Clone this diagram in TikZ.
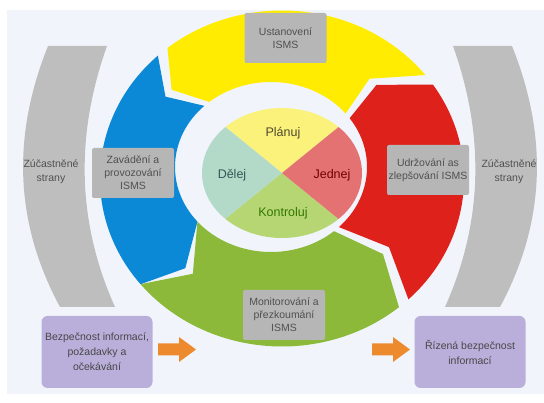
\documentclass[tikz,border=0pt]{standalone}
\usepackage{fontspec}
\setmainfont{Liberation Sans}
\usetikzlibrary{calc}

\definecolor{bgblue}{HTML}{F1F5FB}
\definecolor{bandgray}{HTML}{BEBEBE}
\definecolor{boxgray}{HTML}{B6B6B6}
\definecolor{boxtext}{HTML}{505050}
\definecolor{ringyellow}{HTML}{FFEC00}
\definecolor{ringred}{HTML}{DF211B}
\definecolor{ringgreen}{HTML}{8DB93A}
\definecolor{ringblue}{HTML}{0C89D6}
\definecolor{pieyellow}{HTML}{FBF27C}
\definecolor{pieteal}{HTML}{B3DAC9}
\definecolor{piered}{HTML}{E47272}
\definecolor{piegreen}{HTML}{B6D674}
\definecolor{infopurple}{HTML}{BAAFDB}
\definecolor{infotext}{HTML}{474747}
\definecolor{arroworange}{HTML}{EE8A2E}

\begin{document}
\begin{tikzpicture}[x=1pt, y=1pt,
    ringbox/.style={fill=boxgray, rounded corners=2pt, minimum width=82pt, minimum height=50pt,
      inner sep=0pt, align=center, text=boxtext, font=\fontsize{10.5}{13}\selectfont},
    infobox/.style={fill=infopurple, rounded corners=6pt, minimum width=111pt, minimum height=72pt,
      inner sep=0pt, align=center, text=infotext, font=\fontsize{10.5}{15}\selectfont},
    sidetext/.style={align=center, text=boxtext, font=\fontsize{10.5}{14}\selectfont},
    pietext/.style={font=\fontsize{12.5}{15}\selectfont}]

    \useasboundingbox (0,0) rectangle (544,403);
    \fill[white] (0,0) rectangle (544,403);
    \fill[bgblue] (7,9) rectangle (544,393);

    \fill[bandgray] (48,357) .. controls (13,270) and (13,183) .. (60,96) -- (115,96)
      .. controls (76,183) and (76,270) .. (107,357) -- cycle;
    \node[sidetext] (partyL) at (51,231) {Zúčastněné\\strany};

    \fill[bandgray] (512,357) .. controls (547,270) and (547,183) .. (500,96) -- (445,96)
      .. controls (484,183) and (484,270) .. (453,357) -- cycle;
    \node[sidetext] (partyR) at (509,231) {Zúčastněné\\strany};

    \coordinate (Co) at (282,224.5);
    \coordinate (Ci) at (271,236);
    \coordinate (Cm) at (276.5,230.25);

    \fill[ringblue] ($(Co)+(219:182 and 168)$) arc[start angle=219, end angle=133, x radius=182, y radius=168]
      -- ($(Cm)+(143:139 and 126.5)$) -- ($(Ci)+(134:96 and 85)$)
      arc[start angle=134, end angle=220, x radius=96, y radius=85]
      -- ($(Cm)+(229:139 and 126.5)$) -- cycle;

    \fill[ringyellow] ($(Co)+(129:182 and 168)$) arc[start angle=129, end angle=38, x radius=182, y radius=168]
      -- ($(Cm)+(48:139 and 126.5)$) -- ($(Ci)+(39:96 and 85)$)
      arc[start angle=39, end angle=130, x radius=96, y radius=85]
      -- ($(Cm)+(139:139 and 126.5)$) -- cycle;

    \fill[ringred] ($(Co)+(34:182 and 168)$) arc[start angle=34, end angle=-46, x radius=182, y radius=168]
      -- ($(Cm)+(-36:139 and 126.5)$) -- ($(Ci)+(-45:96 and 85)$)
      arc[start angle=-45, end angle=35, x radius=96, y radius=85]
      -- ($(Cm)+(44:139 and 126.5)$) -- cycle;

    \fill[ringgreen] ($(Co)+(310:182 and 168)$) arc[start angle=310, end angle=219, x radius=182, y radius=168]
      -- ($(Cm)+(233:139 and 126.5)$) -- ($(Ci)+(220:96 and 85)$)
      arc[start angle=220, end angle=311, x radius=96, y radius=85]
      -- ($(Cm)+(320:139 and 126.5)$) -- cycle;

    \coordinate (P) at (282,230);
    \fill[pieyellow] (P) -- ($(P)+(45:80 and 65)$) arc[start angle=45, end angle=135, x radius=80, y radius=65] -- cycle;
    \fill[pieteal] (P) -- ($(P)+(135:80 and 65)$) arc[start angle=135, end angle=225, x radius=80, y radius=65] -- cycle;
    \fill[piegreen] (P) -- ($(P)+(225:80 and 65)$) arc[start angle=225, end angle=315, x radius=80, y radius=65] -- cycle;
    \fill[piered] (P) -- ($(P)+(-45:80 and 65)$) arc[start angle=-45, end angle=45, x radius=80, y radius=65] -- cycle;

    \node[pietext, text=black!60!olive] (plan) at (283,270) {Plánuj};
    \node[pietext, text=black!55!teal!60!gray] (do) at (232,228) {Dělej};
    \node[pietext, text=black!55!red] (act) at (332,228) {Jednej};
    \node[pietext, text=black!55!green!60!olive] (check) at (283,190) {Kontroluj};

    \node[ringbox] (establish) at (285.5,365) {Ustanovení\\ISMS};
    \node[ringbox] (implement) at (133,230) {Zavádění a\\provozování\\ISMS};
    \node[ringbox] (maintain) at (428,233) {Udržování as\\zlepšování ISMS};
    \node[ringbox] (monitor) at (284,88) {Monitorování a\\přezkoumání\\ISMS};

    \node[infobox] (reqs) at (97,51) {Bezpečnost informací,\\požadavky a\\očekávání};
    \node[infobox] (managed) at (470,51) {Řízená bezpečnost\\informací};

    \fill[arroworange] (158,47.5) -- (179,47.5) -- (179,41) -- (196,53.5) -- (179,66) -- (179,59.5) -- (158,59.5) -- cycle;
    \fill[arroworange] (372,47.5) -- (393,47.5) -- (393,41) -- (410,53.5) -- (393,66) -- (393,59.5) -- (372,59.5) -- cycle;

\end{tikzpicture}
\end{document}
